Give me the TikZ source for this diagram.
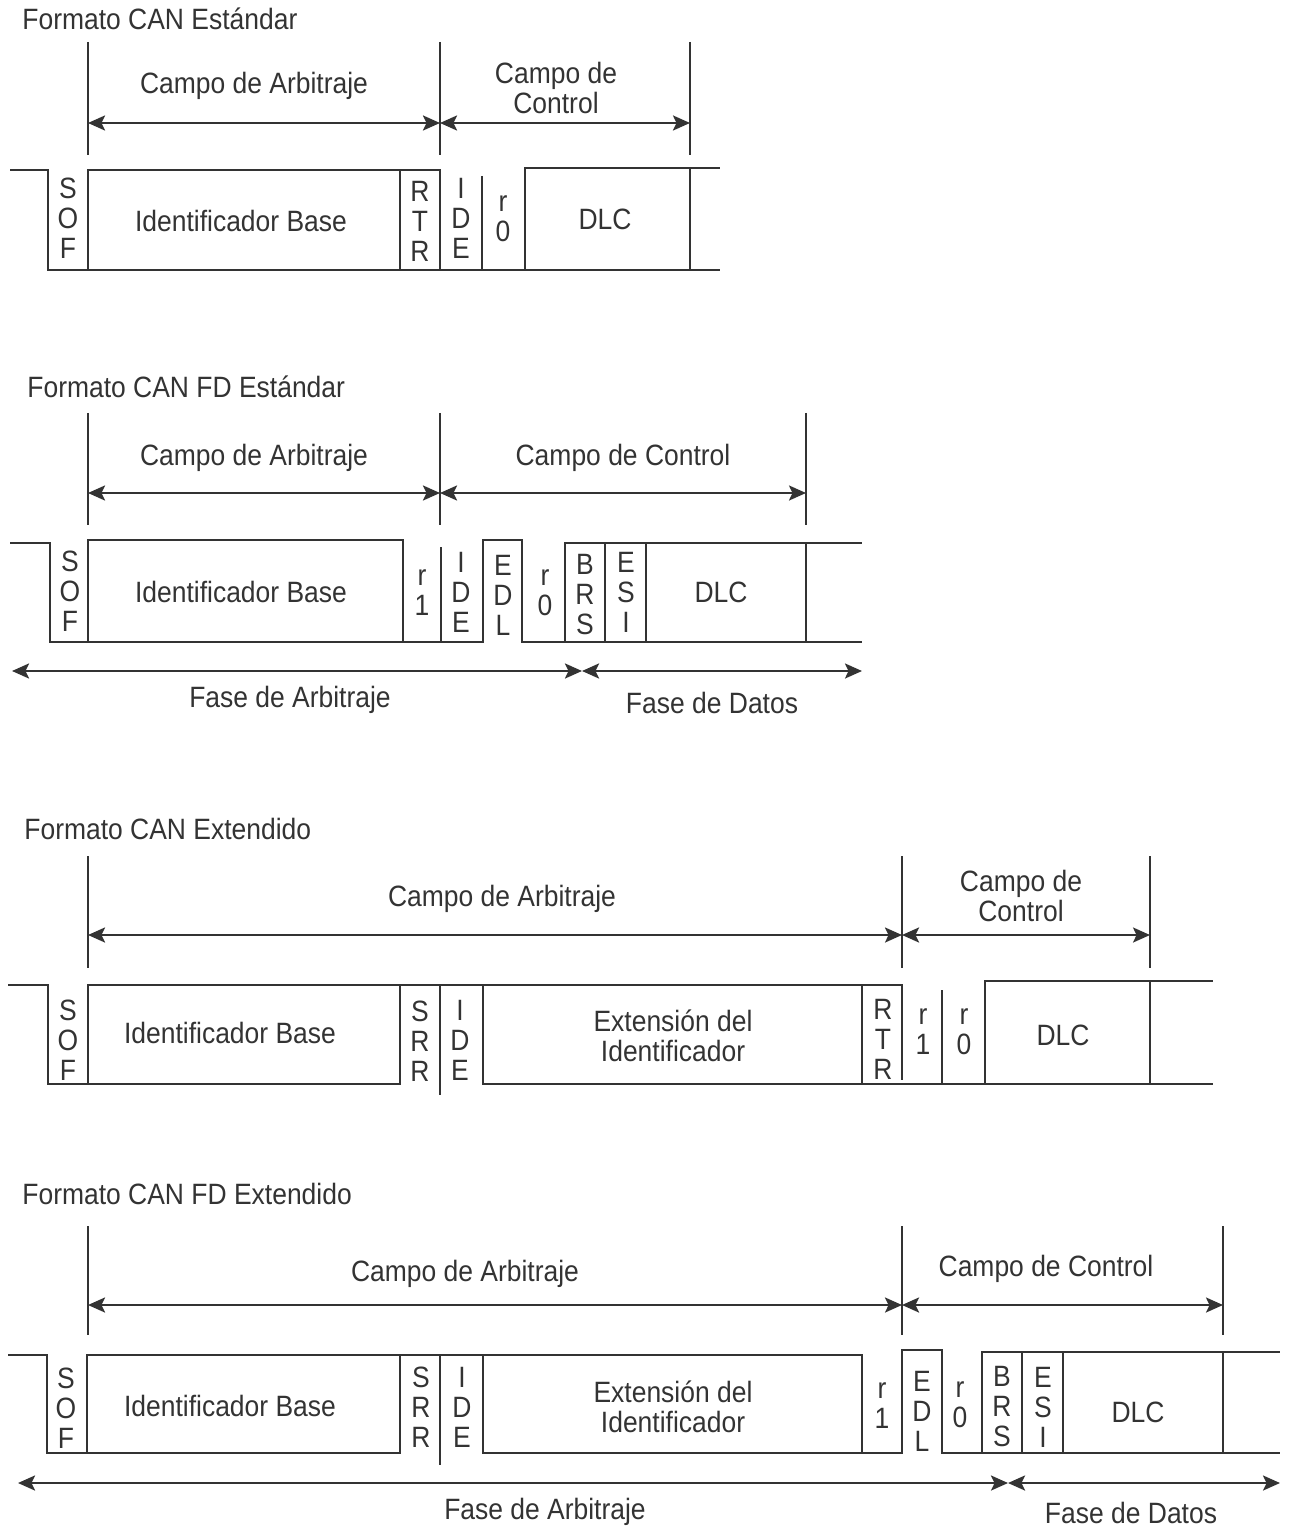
\documentclass[tikz,border=0pt]{standalone}
\usepackage{fontspec}
\setmainfont[FakeStretch=0.9]{Liberation Sans}
\usetikzlibrary{arrows.meta}
\definecolor{ink}{HTML}{333333}
\begin{document}
\begin{tikzpicture}[x=0.5pt,y=-0.5pt,
  wire/.style={draw=ink,line width=1.25pt,line join=miter},
  dim/.style={draw=ink,line width=1.25pt,{Stealth[length=8.5pt,width=7.5pt,inset=1.8pt]}-{Stealth[length=8.5pt,width=7.5pt,inset=1.8pt]}},
  lbl/.style={text=ink,inner sep=0pt,align=center,font=\fontsize{14.7pt}{15pt}\selectfont},
  title/.style={lbl,anchor=west}]
\useasboundingbox (0,0) rectangle (1292,1529);

% ---------------- Formato CAN Estándar ----------------
\node[title] (t1) at (22,19) {Formato CAN Estándar};
\draw[wire] (88,42) -- (88,155) (440,42) -- (440,155) (690,42) -- (690,155);
\coordinate (a1l) at (88,123); \coordinate (a1m) at (440,123); \coordinate (a1r) at (690,123);
\draw[dim] (a1l) -- (a1m);
\draw[dim] (a1m) -- (a1r);
\node[lbl] (arb1) at (254,86) {Campo de Arbitraje};
\node[lbl] (ctl1) at (556,88) {Campo de\\Control};
% waveform
\draw[wire] (10,170) -- (48,170) -- (48,270) -- (720,270);
\draw[wire] (88,270) -- (88,170) -- (440,170) -- (440,270);
\draw[wire] (400,170) -- (400,270);
\draw[wire] (482,176) -- (482,270);
\draw[wire] (525,270) -- (525,168) -- (720,168);
\draw[wire] (690,168) -- (690,270);
\node[lbl] (sof1) at (68,218) {S\\O\\F};
\node[lbl] (idb1) at (241,221) {Identificador Base};
\node[lbl] (rtr1) at (420,221) {R\\T\\R};
\node[lbl] (ide1) at (461,218) {I\\D\\E};
\node[lbl] (r01) at (503,219) {r\\0};
\node[lbl] (dlc1) at (605,219) {DLC};

% ---------------- Formato CAN FD Estándar ----------------
\node[title] (t2) at (27,387) {Formato CAN FD Estándar};
\draw[wire] (88,413) -- (88,525) (440,413) -- (440,525) (806,413) -- (806,525);
\coordinate (a2l) at (88,493); \coordinate (a2m) at (440,493); \coordinate (a2r) at (806,493);
\draw[dim] (a2l) -- (a2m);
\draw[dim] (a2m) -- (a2r);
\node[lbl] (arb2) at (254,458) {Campo de Arbitraje};
\node[lbl] (ctl2) at (623,458) {Campo de Control};
% waveform
\draw[wire] (10,543) -- (50,543) -- (50,642) -- (483,642) -- (483,540) -- (522,540) -- (522,642) -- (862,642);
\draw[wire] (88,642) -- (88,540) -- (403,540) -- (403,642);
\draw[wire] (441,547) -- (441,642);
\draw[wire] (565,642) -- (565,543) -- (862,543);
\draw[wire] (605,543) -- (605,642) (646,543) -- (646,642) (806,543) -- (806,642);
\node[lbl] (sof2) at (70,591) {S\\O\\F};
\node[lbl] (idb2) at (241,592) {Identificador Base};
\node[lbl] (r12) at (422,593) {r\\1};
\node[lbl] (ide2) at (461,592) {I\\D\\E};
\node[lbl] (edl2) at (503,595) {E\\D\\L};
\node[lbl] (r02) at (545,593) {r\\0};
\node[lbl] (brs2) at (585,595) {B\\R\\S};
\node[lbl] (esi2) at (626,592) {E\\S\\I};
\node[lbl] (dlc2) at (721,592) {DLC};
% phases
\coordinate (p2l) at (12,671); \coordinate (p2m) at (582,671); \coordinate (p2r) at (862,671);
\draw[dim] (p2l) -- (p2m);
\draw[dim] (p2m) -- (p2r);
\node[lbl] (fa2) at (290,700) {Fase de Arbitraje};
\node[lbl] (fd2) at (712,703) {Fase de Datos};

% ---------------- Formato CAN Extendido ----------------
\node[title] (t3) at (24,829) {Formato CAN Extendido};
\draw[wire] (88,856) -- (88,968) (902,856) -- (902,968) (1150,856) -- (1150,968);
\coordinate (a3l) at (88,935); \coordinate (a3m) at (902,935); \coordinate (a3r) at (1150,935);
\draw[dim] (a3l) -- (a3m);
\draw[dim] (a3m) -- (a3r);
\node[lbl] (arb3) at (502,899) {Campo de Arbitraje};
\node[lbl] (ctl3) at (1021,896) {Campo de\\Control};
% waveform
\draw[wire] (8,985) -- (48,985) -- (48,1084) -- (400,1084) -- (400,985);
\draw[wire] (88,1084) -- (88,985) -- (902,985) -- (902,1080);
\draw[wire] (440,985) -- (440,1095);
\draw[wire] (483,985) -- (483,1084) -- (1213,1084);
\draw[wire] (862,985) -- (862,1084);
\draw[wire] (942,990) -- (942,1084);
\draw[wire] (985,1084) -- (985,981) -- (1213,981);
\draw[wire] (1150,981) -- (1150,1084);
\node[lbl] (sof3) at (68,1040) {S\\O\\F};
\node[lbl] (idb3) at (230,1033) {Identificador Base};
\node[lbl] (srr3) at (420,1041) {S\\R\\R};
\node[lbl] (ide3) at (460,1040) {I\\D\\E};
\node[lbl] (ext3) at (673,1036) {Extensión del\\Identificador};
\node[lbl] (rtr3) at (883,1039) {R\\T\\R};
\node[lbl] (r13) at (923,1032) {r\\1};
\node[lbl] (r03) at (964,1032) {r\\0};
\node[lbl] (dlc3) at (1063,1035) {DLC};

% ---------------- Formato CAN FD Extendido ----------------
\node[title] (t4) at (22,1194) {Formato CAN FD Extendido};
\draw[wire] (88,1226) -- (88,1335) (902,1226) -- (902,1335) (1223,1226) -- (1223,1335);
\coordinate (a4l) at (88,1305); \coordinate (a4m) at (902,1305); \coordinate (a4r) at (1223,1305);
\draw[dim] (a4l) -- (a4m);
\draw[dim] (a4m) -- (a4r);
\node[lbl] (arb4) at (465,1274) {Campo de Arbitraje};
\node[lbl] (ctl4) at (1046,1269) {Campo de Control};
% waveform
\draw[wire] (8,1355) -- (47,1355) -- (47,1453) -- (400,1453) -- (400,1355);
\draw[wire] (87,1453) -- (87,1355) -- (862,1355) -- (862,1453);
\draw[wire] (440,1355) -- (440,1465);
\draw[wire] (483,1355) -- (483,1453) -- (902,1453) -- (902,1350) -- (942,1350) -- (942,1453) -- (1280,1453);
\draw[wire] (982,1453) -- (982,1352) -- (1280,1352);
\draw[wire] (1022,1352) -- (1022,1453) (1063,1352) -- (1063,1453) (1223,1352) -- (1223,1453);
\node[lbl] (sof4) at (66,1408) {S\\O\\F};
\node[lbl] (idb4) at (230,1406) {Identificador Base};
\node[lbl] (srr4) at (421,1407) {S\\R\\R};
\node[lbl] (ide4) at (462,1407) {I\\D\\E};
\node[lbl] (ext4) at (673,1407) {Extensión del\\Identificador};
\node[lbl] (r14) at (882,1406) {r\\1};
\node[lbl] (edl4) at (922,1411) {E\\D\\L};
\node[lbl] (r04) at (960,1405) {r\\0};
\node[lbl] (brs4) at (1002,1407) {B\\R\\S};
\node[lbl] (esi4) at (1043,1407) {E\\S\\I};
\node[lbl] (dlc4) at (1138,1412) {DLC};
% phases
\coordinate (p4l) at (18,1483); \coordinate (p4m) at (1008,1483); \coordinate (p4r) at (1280,1483);
\draw[dim] (p4l) -- (p4m);
\draw[dim] (p4m) -- (p4r);
\node[lbl] (fa4) at (545,1512) {Fase de Arbitraje};
\node[lbl] (fd4) at (1131,1513) {Fase de Datos};
\end{tikzpicture}
\end{document}
